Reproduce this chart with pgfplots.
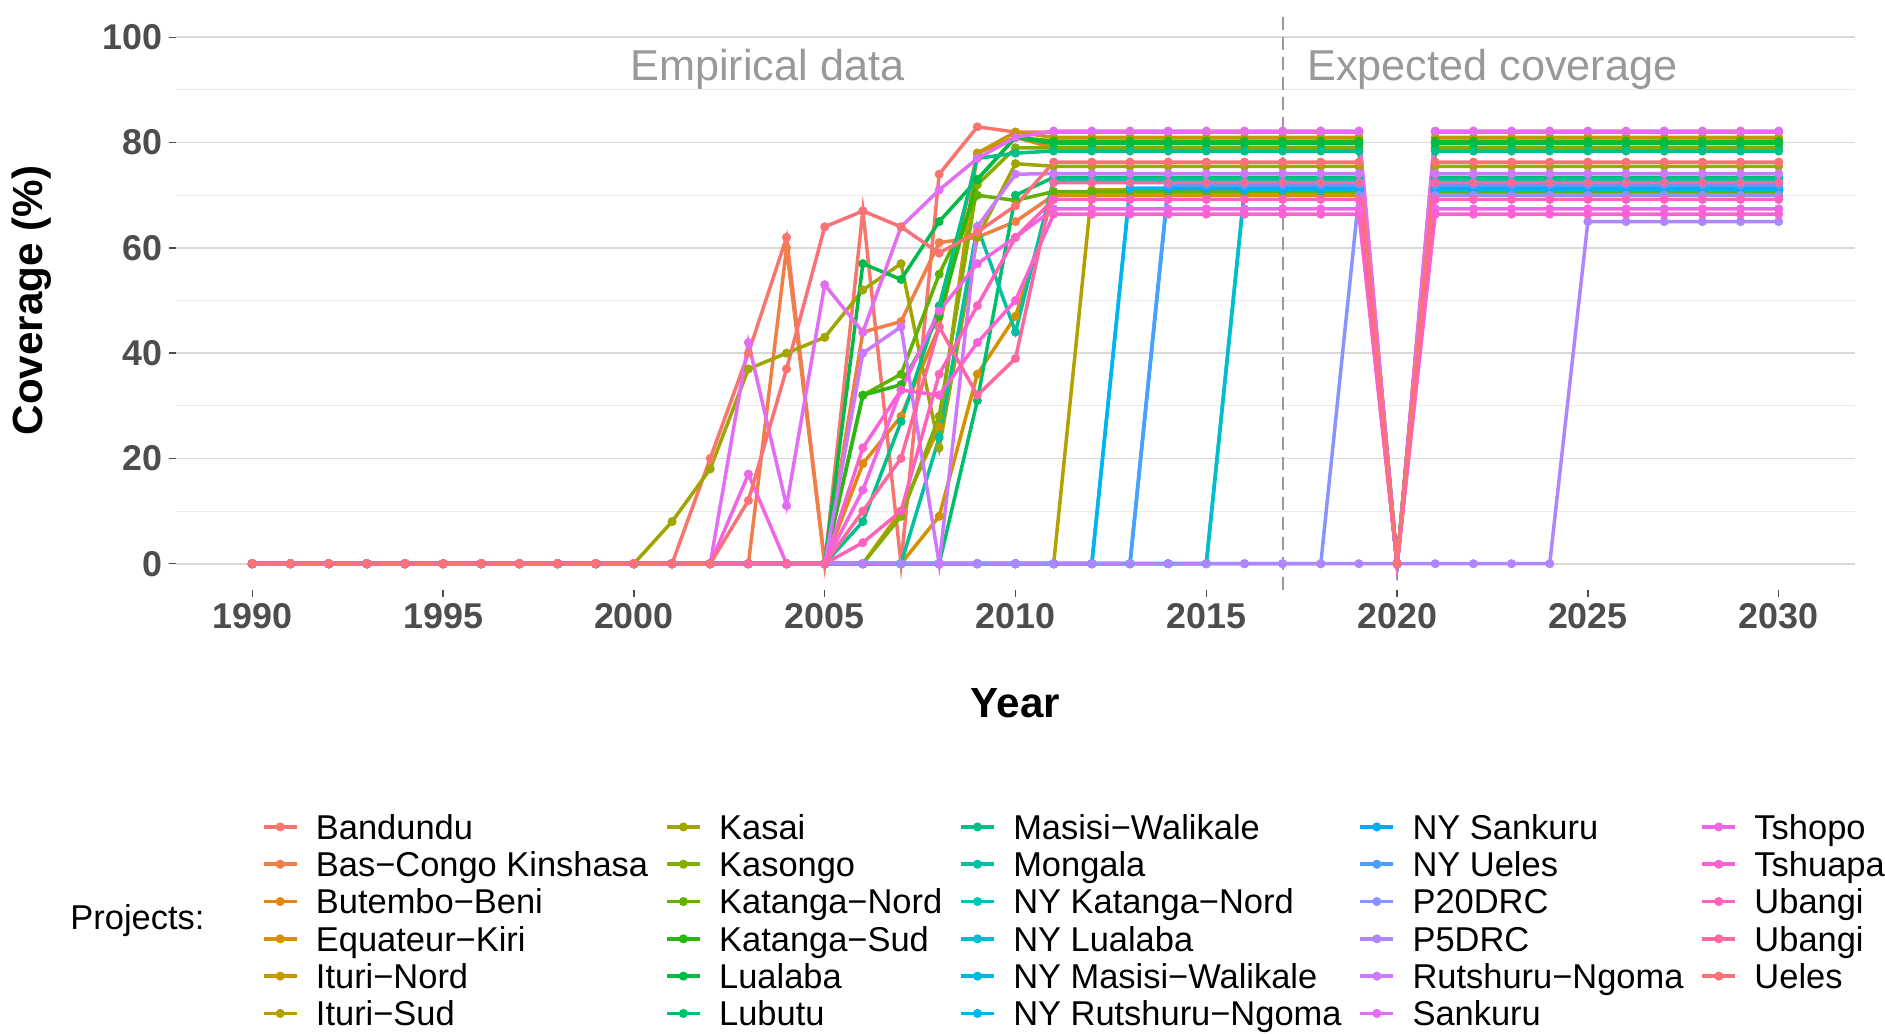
\documentclass[border=0pt]{standalone}
\usepackage{fontspec}
\setmainfont{Liberation Sans}
\usepackage{pgfplots}
\usepackage{pgfplotstable}
\pgfplotsset{compat=1.18}

% ggplot hue palette, 29 projects
\definecolor{c1}{HTML}{F8766D}
\definecolor{c2}{HTML}{EF7F47}
\definecolor{c3}{HTML}{E38713}
\definecolor{c4}{HTML}{D69100}
\definecolor{c5}{HTML}{C69900}
\definecolor{c6}{HTML}{B4A000}
\definecolor{c7}{HTML}{A0A600}
\definecolor{c8}{HTML}{84AD00}
\definecolor{c9}{HTML}{61B200}
\definecolor{c10}{HTML}{2BB712}
\definecolor{c11}{HTML}{00BB46}
\definecolor{c12}{HTML}{00BE6B}
\definecolor{c13}{HTML}{00C089}
\definecolor{c14}{HTML}{00C1A2}
\definecolor{c15}{HTML}{00C0B8}
\definecolor{c16}{HTML}{00BECE}
\definecolor{c17}{HTML}{00B9E1}
\definecolor{c18}{HTML}{00B3F1}
\definecolor{c19}{HTML}{00AAFE}
\definecolor{c20}{HTML}{4BA0FF}
\definecolor{c21}{HTML}{8894FF}
\definecolor{c22}{HTML}{B086FF}
\definecolor{c23}{HTML}{CD79FF}
\definecolor{c24}{HTML}{E46DF5}
\definecolor{c25}{HTML}{F265E7}
\definecolor{c26}{HTML}{FC61D4}
\definecolor{c27}{HTML}{FF62BE}
\definecolor{c28}{HTML}{FE679F}
\definecolor{c29}{HTML}{FA7276}
\definecolor{tickgray}{HTML}{4D4D4D}
\definecolor{gridmaj}{HTML}{D9D9D9}
\definecolor{gridmin}{HTML}{EBEBEB}
\definecolor{notegray}{HTML}{999999}

% coverage (%) per project and year
\pgfplotstableread{
year s1 s2 s3 s4 s5 s6 s7 s8 s9 s10 s11 s12 s13 s14 s15 s16 s17 s18 s19 s20 s21 s22 s23 s24 s25 s26 s27 s28 s29
1990 0 0 0 0 0 0 0 0 0 0 0 0 0 0 0 0 0 0 0 0 0 0 0 0 0 0 0 0 0
1991 0 0 0 0 0 0 0 0 0 0 0 0 0 0 0 0 0 0 0 0 0 0 0 0 0 0 0 0 0
1992 0 0 0 0 0 0 0 0 0 0 0 0 0 0 0 0 0 0 0 0 0 0 0 0 0 0 0 0 0
1993 0 0 0 0 0 0 0 0 0 0 0 0 0 0 0 0 0 0 0 0 0 0 0 0 0 0 0 0 0
1994 0 0 0 0 0 0 0 0 0 0 0 0 0 0 0 0 0 0 0 0 0 0 0 0 0 0 0 0 0
1995 0 0 0 0 0 0 0 0 0 0 0 0 0 0 0 0 0 0 0 0 0 0 0 0 0 0 0 0 0
1996 0 0 0 0 0 0 0 0 0 0 0 0 0 0 0 0 0 0 0 0 0 0 0 0 0 0 0 0 0
1997 0 0 0 0 0 0 0 0 0 0 0 0 0 0 0 0 0 0 0 0 0 0 0 0 0 0 0 0 0
1998 0 0 0 0 0 0 0 0 0 0 0 0 0 0 0 0 0 0 0 0 0 0 0 0 0 0 0 0 0
1999 0 0 0 0 0 0 0 0 0 0 0 0 0 0 0 0 0 0 0 0 0 0 0 0 0 0 0 0 0
2000 0 0 0 0 0 0 0 0 0 0 0 0 0 0 0 0 0 0 0 0 0 0 0 0 0 0 0 0 0
2001 0 0 0 0 0 0 8 0 0 0 0 0 0 0 0 0 0 0 0 0 0 0 0 0 0 0 0 0 0
2002 20 0 0 0 0 0 18 0 0 0 0 0 0 0 0 0 0 0 0 0 0 0 0 0 0 0 0 0 0
2003 40 0 0 0 0 0 37 0 0 0 0 0 0 0 0 0 0 0 0 0 0 0 0 42 17 0 0 0 12
2004 62 60 0 0 0 0 40 0 0 0 0 0 0 0 0 0 0 0 0 0 0 0 0 11 0 0 0 0 37
2005 0 0 0 0 0 0 43 0 0 0 0 0 0 0 0 0 0 0 0 0 0 0 0 53 0 0 0 0 64
2006 67 44 19 0 0 0 52 0 32 32 57 0 8 0 0 0 0 0 0 0 0 0 40 44 14 22 4 10 67
2007 0 46 28 0 10 0 57 9 36 34 54 0 27 0 0 0 0 0 0 0 0 0 45 64 33 33 10 20 64
2008 74 61 45 9 26 0 22 28 55 47 65 0 49 24 0 0 0 0 0 0 0 0 0 71 48 32 36 45 59
2009 83 62 78 36 78 0 62 72 70 73 73 31 77 64 0 0 0 0 0 0 0 0 64 77 57 42 49 32 63
2010 82 65 81 47 82 0 76 79 69 81 81 70 78 44 0 0 0 0 0 0 0 0 74 81 62 50 62 39 68
2011 82 70 79 70 81 0 75.5 79 70.7 80.3 79.8 73.4 78.4 73 0 0 0 0 0 0 0 0 74.1 82.2 67.4 66.4 69.2 72.4 76.3
2012 82 70 79 70 81 71 75.5 79 70.7 80.3 79.8 73.4 78.4 73 0 0 0 0 0 0 0 0 74.1 82.2 67.4 66.4 69.2 72.4 76.3
2013 82 70 79 70 81 71 75.5 79 70.7 80.3 79.8 73.4 78.4 73 0 0 71.3 71.3 0 0 0 0 74.1 82.2 67.4 66.4 69.2 72.4 76.3
2014 82 70 79 70 81 71 75.5 79 70.7 80.3 79.8 73.4 78.4 73 0 0 71.3 71.3 71.3 71.9 0 0 74.1 82.2 67.4 66.4 69.2 72.4 76.3
2015 82 70 79 70 81 71 75.5 79 70.7 80.3 79.8 73.4 78.4 73 0 0 71.3 71.3 71.3 71.9 0 0 74.1 82.2 67.4 66.4 69.2 72.4 76.3
2016 82 70 79 70 81 71 75.5 79 70.7 80.3 79.8 73.4 78.4 73 71 71 71.3 71.3 71.3 71.9 0 0 74.1 82.2 67.4 66.4 69.2 72.4 76.3
2017 82 70 79 70 81 71 75.5 79 70.7 80.3 79.8 73.4 78.4 73 71 71 71.3 71.3 71.3 71.9 0 0 74.1 82.2 67.4 66.4 69.2 72.4 76.3
2018 82 70 79 70 81 71 75.5 79 70.7 80.3 79.8 73.4 78.4 73 71 71 71.3 71.3 71.3 71.9 0 0 74.1 82.2 67.4 66.4 69.2 72.4 76.3
2019 82 70 79 70 81 71 75.5 79 70.7 80.3 79.8 73.4 78.4 73 71 71 71.3 71.3 71.3 71.9 70 0 74.1 82.2 67.4 66.4 69.2 72.4 76.3
2020 0 0 0 0 0 0 0 0 0 0 0 0 0 0 0 0 0 0 0 0 0 0 0 0 0 0 0 0 0
2021 82 70 79 70 81 71 75.5 79 70.7 80.3 79.8 73.4 78.4 73 71 71 71.3 71.3 71.3 71.9 70 0 74.1 82.2 67.4 66.4 69.2 72.4 76.3
2022 82 70 79 70 81 71 75.5 79 70.7 80.3 79.8 73.4 78.4 73 71 71 71.3 71.3 71.3 71.9 70 0 74.1 82.2 67.4 66.4 69.2 72.4 76.3
2023 82 70 79 70 81 71 75.5 79 70.7 80.3 79.8 73.4 78.4 73 71 71 71.3 71.3 71.3 71.9 70 0 74.1 82.2 67.4 66.4 69.2 72.4 76.3
2024 82 70 79 70 81 71 75.5 79 70.7 80.3 79.8 73.4 78.4 73 71 71 71.3 71.3 71.3 71.9 70 0 74.1 82.2 67.4 66.4 69.2 72.4 76.3
2025 82 70 79 70 81 71 75.5 79 70.7 80.3 79.8 73.4 78.4 73 71 71 71.3 71.3 71.3 71.9 70 65 74.1 82.2 67.4 66.4 69.2 72.4 76.3
2026 82 70 79 70 81 71 75.5 79 70.7 80.3 79.8 73.4 78.4 73 71 71 71.3 71.3 71.3 71.9 70 65 74.1 82.2 67.4 66.4 69.2 72.4 76.3
2027 82 70 79 70 81 71 75.5 79 70.7 80.3 79.8 73.4 78.4 73 71 71 71.3 71.3 71.3 71.9 70 65 74.1 82.2 67.4 66.4 69.2 72.4 76.3
2028 82 70 79 70 81 71 75.5 79 70.7 80.3 79.8 73.4 78.4 73 71 71 71.3 71.3 71.3 71.9 70 65 74.1 82.2 67.4 66.4 69.2 72.4 76.3
2029 82 70 79 70 81 71 75.5 79 70.7 80.3 79.8 73.4 78.4 73 71 71 71.3 71.3 71.3 71.9 70 65 74.1 82.2 67.4 66.4 69.2 72.4 76.3
2030 82 70 79 70 81 71 75.5 79 70.7 80.3 79.8 73.4 78.4 73 71 71 71.3 71.3 71.3 71.9 70 65 74.1 82.2 67.4 66.4 69.2 72.4 76.3
}\data

\newcommand{\key}[2]{\addlegendimage{color=#1}\addlegendentry{#2}}

\begin{document}
\begin{tikzpicture}
\begin{axis}[
    at={(1.76cm,4.43cm)}, anchor=south west,
    scale only axis,
    width=16.79cm,
    height=5.79cm,
    xmin=1988, xmax=2032,
    ymin=-5, ymax=105,
    xtick={1990,1995,...,2030},
    ytick={0,20,...,100},
    minor ytick={10,30,...,90},
    ymajorgrids, yminorgrids,
    major grid style={color=gridmaj, line width=0.18mm},
    minor grid style={color=gridmin, line width=0.1mm},
    axis line style={draw=none},
    tick align=outside,
    xtick pos=bottom, ytick pos=left,
    major tick length=0.07cm,
    minor tick length=0pt,
    tick style={color=tickgray, line width=0.15mm},
    /pgf/number format/assume math mode=true,
    /pgf/number format/set thousands separator={},
    tick label style={font=\bfseries\fontsize{10.2}{12}\selectfont, text=tickgray},
    yticklabel style={xshift=0.6mm},
    xticklabel style={yshift=0.6mm},
    legend columns=5,
    legend cell align={left},
    legend image code/.code={
        \draw[#1, line width=0.35mm] (0mm,0mm) -- (3.3mm,0mm);
        \fill[#1] (1.65mm,0mm) circle (0.38mm);
    },
    legend style={
        at={(rel axis cs:0.0512,-0.377)}, anchor=north west,
        draw=none, fill=none, inner sep=0pt, outer sep=0pt,
        font=\fontsize{9.8}{11}\selectfont,
        row sep=0pt, column sep=0pt,
        nodes={inner sep=0pt, text height=3.1mm, text depth=0.63mm},
        /tikz/every odd column/.append style={column sep=1.75mm},
        /tikz/every even column/.append style={column sep=1.7mm},
    },
    clip=false,
]
% lines first, as in ggplot
\pgfplotsinvokeforeach{1,...,29}{
    \addplot[color=c#1, line width=0.35mm, mark=none, forget plot] table[x=year, y=s#1] {\data};
}
\draw[notegray, line width=0.2mm, dash pattern=on 1.3mm off 0.7mm]
    (axis cs:2017,-5) -- (axis cs:2017,105);
% points on top
\pgfplotsinvokeforeach{1,...,29}{
    \addplot[color=c#1, only marks, mark=*, mark size=0.38mm, forget plot] table[x=year, y=s#1] {\data};
}
% legend, laid out column by column (6 rows)
\key{c1}{Bandundu}\key{c7}{Kasai}\key{c13}{Masisi−Walikale}\key{c19}{NY Sankuru}\key{c25}{Tshopo}
\key{c2}{Bas−Congo Kinshasa}\key{c8}{Kasongo}\key{c14}{Mongala}\key{c20}{NY Ueles}\key{c26}{Tshuapa}
\key{c3}{Butembo−Beni}\key{c9}{Katanga−Nord}\key{c15}{NY Katanga−Nord}\key{c21}{P20DRC}\key{c27}{Ubangi}
\key{c4}{Equateur−Kiri}\key{c10}{Katanga−Sud}\key{c16}{NY Lualaba}\key{c22}{P5DRC}\key{c28}{Ubangi}
\key{c5}{Ituri−Nord}\key{c11}{Lualaba}\key{c17}{NY Masisi−Walikale}\key{c23}{Rutshuru−Ngoma}\key{c29}{Ueles}
\key{c6}{Ituri−Sud}\key{c12}{Lubutu}\key{c18}{NY Rutshuru−Ngoma}\key{c24}{Sankuru}
\node[text=notegray, font=\fontsize{12.3}{14}\selectfont] at (axis cs:2003.5,94) {Empirical data};
\node[text=notegray, font=\fontsize{12.3}{14}\selectfont] at (axis cs:2022.5,94) {Expected coverage};
\node[font=\bfseries\fontsize{12}{14}\selectfont] at (rel axis cs:0.5,-0.195) {Year};
\node[rotate=90, font=\bfseries\fontsize{12}{14}\selectfont] at (rel axis cs:-0.0858,0.5) {Coverage (\%)};
\end{axis}
\node[anchor=west, font=\fontsize{9.8}{11}\selectfont] at (0.58,1.12) {Projects:};
\pgfresetboundingbox
\useasboundingbox (0,0) rectangle (18.85,10.33);
\end{tikzpicture}
\end{document}
